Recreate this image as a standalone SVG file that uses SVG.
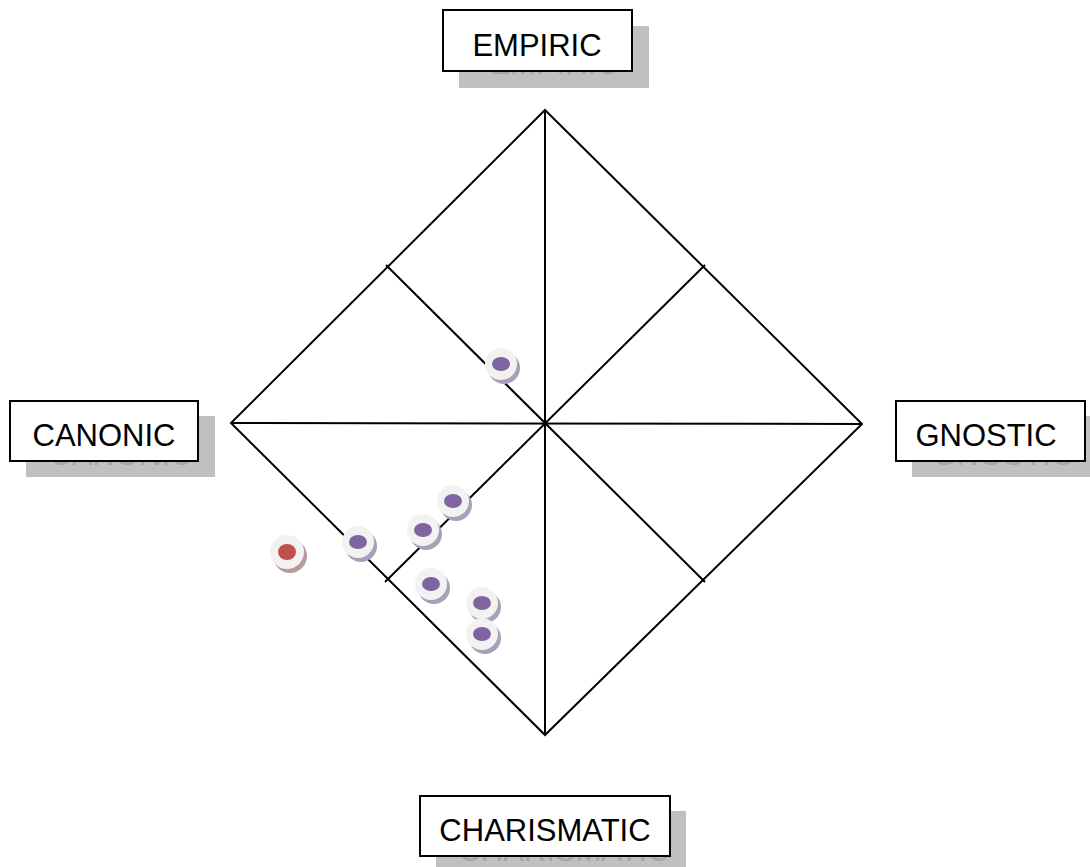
<svg xmlns="http://www.w3.org/2000/svg" width="1090" height="867" viewBox="0 0 1090 867">
<style>
.ln{stroke:#000;stroke-width:2;fill:none}
.shadow{fill:#c0c0c0}
.box{fill:#fff;stroke:#000;stroke-width:2}
.lbl{font-family:"Liberation Sans",Arial,sans-serif;font-size:31px;fill:#000;text-anchor:middle}
.slbl{font-family:"Liberation Sans",Arial,sans-serif;font-size:31px;fill:#a6a6a6;text-anchor:middle}
.ring{fill:#f2f2f2}
.psh{fill:#a89fb8}
.rsh{fill:#b89a98}
.pin{fill:#8064a2}
.rin{fill:#c0504d}
</style>
<rect width="1090" height="867" fill="#fff"/>
<g id="connectors">
<polygon class="ln" points="545,110 862,424 545,735 231,423"/>
<line class="ln" x1="545" y1="110" x2="545" y2="735"/>
<line class="ln" x1="231" y1="423" x2="862" y2="424"/>
<line class="ln" x1="386" y1="265" x2="705" y2="582"/>
<line class="ln" x1="705" y1="265" x2="385" y2="582"/>
</g>
<g id="node-empiric">
<rect class="shadow" x="459" y="26" width="190" height="62"/>
<text class="slbl" x="554" y="74">EMPIRIC</text>
<rect class="box" x="443" y="10" width="189" height="61"/>
<text class="lbl" x="537" y="56">EMPIRIC</text>
</g>
<g id="node-canonic">
<rect class="shadow" x="26" y="416" width="189" height="61"/>
<text class="slbl" x="121" y="465">CANONIC</text>
<rect class="box" x="10" y="401" width="188" height="60"/>
<text class="lbl" x="104" y="446">CANONIC</text>
</g>
<g id="node-gnostic">
<rect class="shadow" x="912" y="416" width="178" height="61"/>
<text class="slbl" x="1003" y="465">GNOSTIC</text>
<rect class="box" x="896" y="401" width="189" height="60"/>
<text class="lbl" x="986" y="446">GNOSTIC</text>
</g>
<g id="node-charismatic">
<rect class="shadow" x="436" y="811" width="250" height="56"/>
<text class="slbl" x="564" y="861">CHARISMATIC</text>
<rect class="box" x="420" y="796" width="250" height="60"/>
<text class="lbl" x="545" y="841">CHARISMATIC</text>
</g>
<defs>
<g id="pdot"><circle class="psh" cx="3" cy="4" r="16"/><circle class="ring" r="16"/><ellipse class="pin" rx="9" ry="7"/></g>
</defs>
<g id="dot-1"><use href="#pdot" x="501" y="364"/></g>
<g id="dot-2"><use href="#pdot" x="453" y="501"/></g>
<g id="dot-3"><use href="#pdot" x="423" y="530"/></g>
<g id="dot-4"><use href="#pdot" x="358" y="542"/></g>
<g id="dot-5"><use href="#pdot" x="431" y="584"/></g>
<g id="dot-6"><use href="#pdot" x="482" y="603"/></g>
<g id="dot-7"><use href="#pdot" x="482" y="634"/></g>
<g id="dot-red"><circle class="rsh" cx="290" cy="556" r="17"/><circle class="ring" cx="287" cy="552" r="17"/><ellipse class="rin" cx="287" cy="552" rx="9" ry="8"/></g>
</svg>
